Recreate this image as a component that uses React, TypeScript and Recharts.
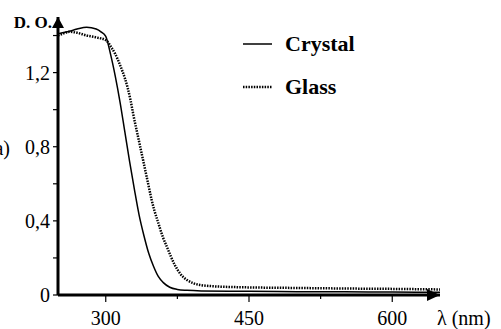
import React from 'react';
import { LineChart, Line, XAxis, YAxis, Legend } from 'recharts';

// absorbance curves
const crystalNm = [250, 260, 270, 280, 290, 295, 300, 305, 310, 315, 320, 325, 330, 335, 340, 345, 350, 355, 360, 367, 375, 385, 400, 450, 500, 550, 600, 650];
const crystalOd = [1.41, 1.42, 1.435, 1.445, 1.435, 1.42, 1.395, 1.3, 1.18, 1.04, 0.88, 0.72, 0.57, 0.43, 0.32, 0.225, 0.155, 0.1, 0.068, 0.042, 0.03, 0.025, 0.022, 0.02, 0.018, 0.017, 0.016, 0.015];

const glassNm = [250, 255, 262, 270, 280, 290, 300, 306, 310, 315, 320, 323, 326, 329, 335, 340, 345, 348, 351, 355, 360, 364, 368, 372, 378, 385, 392, 399, 410, 440, 500, 550, 600, 650];
const glassOd = [1.4, 1.41, 1.42, 1.415, 1.4, 1.39, 1.375, 1.335, 1.3, 1.24, 1.17, 1.117, 1.05, 0.97, 0.826, 0.706, 0.586, 0.514, 0.455, 0.389, 0.31, 0.26, 0.21, 0.165, 0.115, 0.081, 0.063, 0.054, 0.048, 0.042, 0.038, 0.035, 0.033, 0.03];

const xTicks = [300, 375, 450, 525, 600];
const xLabelled = [300, 450, 600];
const yTicks = [0, 0.1, 0.2, 0.3, 0.4, 0.5, 0.6, 0.7, 0.8, 0.9, 1.0, 1.1, 1.2, 1.3, 1.4];
const yLabelled = [0, 0.4, 0.8, 1.2];

const crystalData = crystalNm.map((nm, i) => ({ nm, od: crystalOd[i] }));
const glassData = glassNm.map((nm, i) => ({ nm, od: glassOd[i] }));

const FONT = '"Liberation Serif", "Times New Roman", serif';
const lineStyles: Record<string, { dash?: string; width: number }> = {
  Crystal: { width: 1.5 },
  Glass: { dash: '1.5 1.2', width: 2.5 }
};

const fmt = (v: number) => (v === 0 ? '0' : v.toFixed(1).replace('.', ','));

function XTick(props: any) {
  const { x, y, payload } = props;
  const major = xLabelled.includes(payload.value);
  return (
    <g>
      <line x1={x} y1={y} x2={x} y2={y + (major ? 7 : 4)} stroke="#000" strokeWidth={1.2} />
      {major &&
      <text x={x} y={y + 30} textAnchor="middle" fontFamily={FONT} fontSize={20} fill="#000">
          {payload.value}
        </text>
      }
    </g>);

}

function YTick(props: any) {
  const { x, y, payload } = props;
  const lab = yLabelled.find((v) => Math.abs(v - payload.value) < 1e-6);
  return (
    <g>
      <line x1={x - 5} y1={y} x2={x} y2={y} stroke="#000" strokeWidth={1.2} />
      {lab !== undefined &&
      <text x={50} y={y + 7} textAnchor="end" fontFamily={FONT} fontSize={20} fill="#000">
          {fmt(lab)}
        </text>
      }
    </g>);

}

function LegendBox({ payload }: any) {
  return (
    <div style={{ fontFamily: FONT }}>
      {(payload || []).map((e: any) => {
        const st = lineStyles[e.value] || { width: 1.5 };
        return (
          <div key={e.value} style={{ height: 43, display: 'flex', alignItems: 'center' }}>
            <svg width={29} height={10}>
              <line x1={0} y1={5} x2={29} y2={5} stroke="#000" strokeWidth={st.width} strokeDasharray={st.dash} />
            </svg>
            <span style={{ marginLeft: 13, fontSize: 22, fontWeight: 'bold', color: '#000' }}>{e.value}</span>
          </div>);

      })}
    </div>);

}

export default function App() {
  return (
    <div style={{ position: 'absolute', left: 0, top: 0, width: 501, height: 329, background: '#fff' }}>
      <svg width={0} height={0} style={{ position: 'absolute' }}>
        <defs>
          <marker id="arrowX" markerUnits="userSpaceOnUse" markerWidth={14} markerHeight={12} refX={13} refY={6} orient="0">
            <path d="M0,0 L13,6 L0,12 z" fill="#000" />
          </marker>
          <marker id="arrowY" markerUnits="userSpaceOnUse" markerWidth={12} markerHeight={12} refX={6} refY={0} orient="0">
            <path d="M0,11 L6,0 L12,11 z" fill="#000" />
          </marker>
        </defs>
      </svg>
      <LineChart width={501} height={329} margin={{ top: 17, right: 61, bottom: 33, left: 57 }}>
        <XAxis
          dataKey="nm"
          type="number"
          domain={[250, 650]}
          allowDataOverflow
          ticks={xTicks}
          height={1}
          tickSize={0}
          tickMargin={0}
          tickLine={false}
          tick={<XTick />}
          axisLine={{ stroke: '#000', strokeWidth: 3, markerEnd: 'url(#arrowX)' }}
          label={{
            content: ({ viewBox }: any) =>
            <text x={viewBox.x + viewBox.width - 3} y={viewBox.y + 30} fontFamily={FONT} fontSize={20} fill="#000">
                λ (nm)
              </text>

          }} />

        <YAxis
          type="number"
          domain={[0, 1.5]}
          ticks={yTicks}
          width={1}
          tickSize={0}
          tickMargin={0}
          tickLine={false}
          tick={<YTick />}
          axisLine={{ stroke: '#000', strokeWidth: 3, markerStart: 'url(#arrowY)' }}
          label={{
            content: ({ viewBox }: any) =>
            <g>
                <text x={52} y={28} textAnchor="end" fontFamily={FONT} fontSize={17} fontWeight="bold" fill="#000">
                  D. O.
                </text>
                <text x={10} y={155} textAnchor="end" fontFamily={FONT} fontSize={20} fill="#000">
                  (a)
                </text>
              </g>

          }} />

        <Legend
          layout="vertical"
          align="center"
          verticalAlign="middle"
          content={<LegendBox />}
          wrapperStyle={{ position: 'absolute', left: 243, top: 22, width: 160 }} />

        <Line
          data={crystalData}
          dataKey="od"
          name="Crystal"
          type="monotone"
          stroke="#000"
          strokeWidth={lineStyles.Crystal.width}
          dot={false}
          isAnimationActive={false} />

        <Line
          data={glassData}
          dataKey="od"
          name="Glass"
          type="monotone"
          stroke="#000"
          strokeWidth={lineStyles.Glass.width}
          strokeDasharray={lineStyles.Glass.dash}
          dot={false}
          isAnimationActive={false} />

      </LineChart>
    </div>);

}
